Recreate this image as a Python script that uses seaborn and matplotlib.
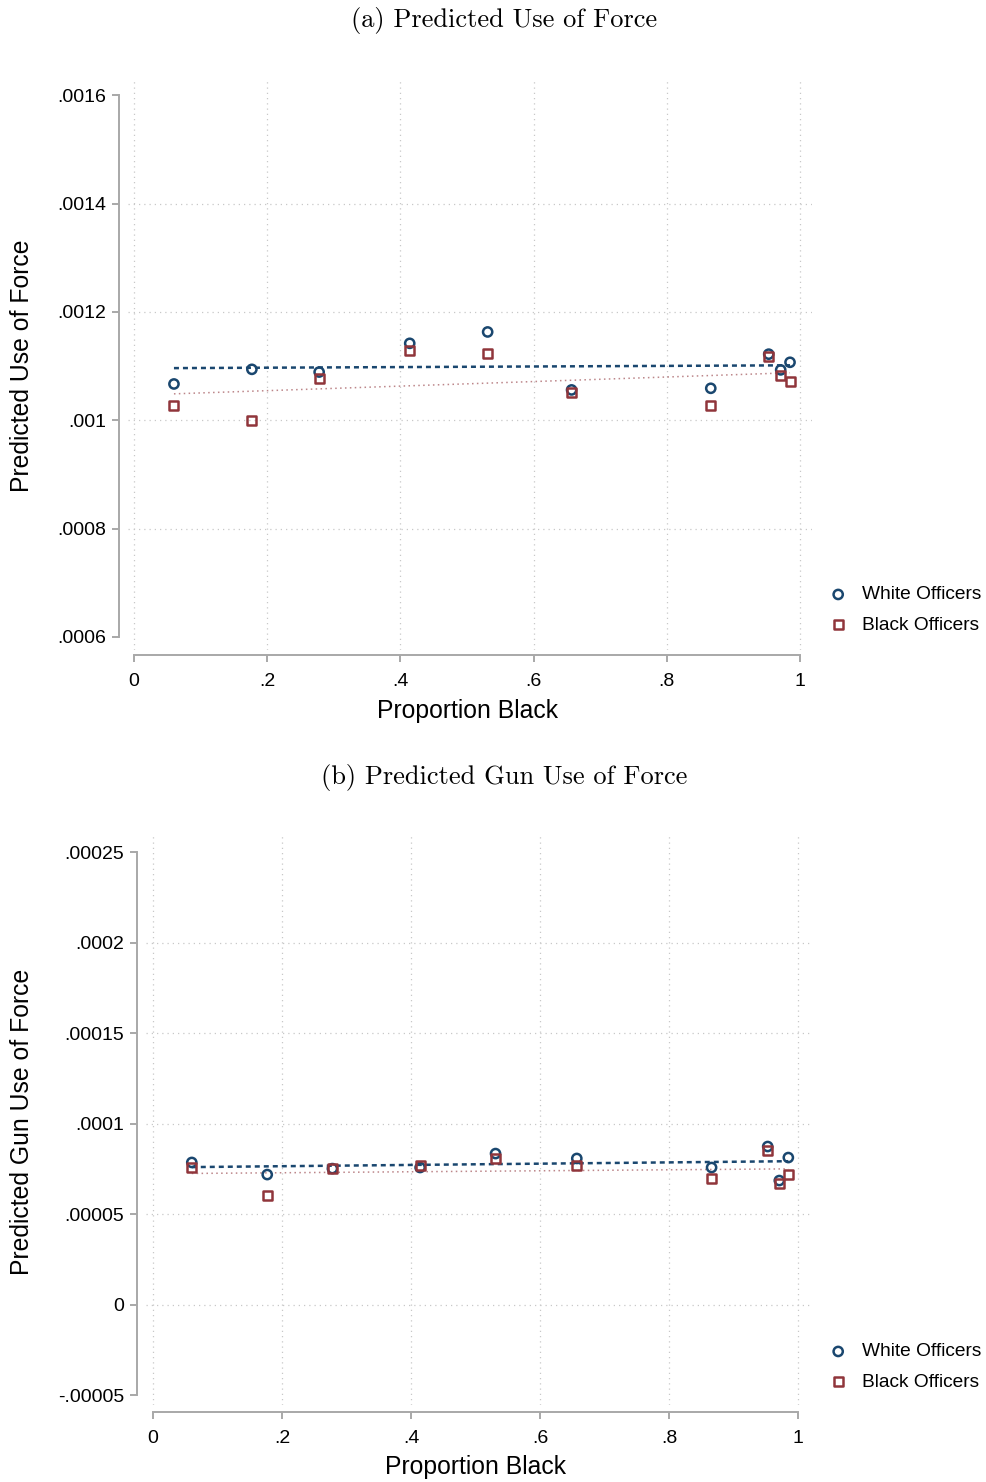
import numpy as np
import matplotlib
matplotlib.use("Agg")
import matplotlib.pyplot as plt
import matplotlib.transforms as mtransforms
import seaborn as sns

sns.set_style('white')
plt.rcParams['font.family'] = ['Liberation Sans', 'DejaVu Sans']
plt.rcParams['text.color'] = 'black'
plt.rcParams['axes.labelcolor'] = 'black'

# --- data ---
prop_black = [0.060, 0.177, 0.278, 0.414, 0.531, 0.657, 0.866, 0.953, 0.971, 0.985]

force_white = [0.001067, 0.001094, 0.001089, 0.001142, 0.001163,
               0.001056, 0.001059, 0.001122, 0.001093, 0.001107]
force_black = [0.001028, 0.000999, 0.001078, 0.001128, 0.001124,
               0.001052, 0.001028, 0.001118, 0.001083, 0.001072]

gun_white = [7.85e-5, 7.18e-5, 7.51e-5, 7.57e-5, 8.34e-5,
             8.07e-5, 7.57e-5, 8.73e-5, 6.85e-5, 8.12e-5]
gun_black = [7.57e-5, 6.02e-5, 7.51e-5, 7.68e-5, 8.07e-5,
             7.68e-5, 6.96e-5, 8.51e-5, 6.69e-5, 7.18e-5]

x_ticks = [0, 0.2, 0.4, 0.6, 0.8, 1.0]
x_ticklabels = ['0', '.2', '.4', '.6', '.8', '1']

force_yticks = [0.0006, 0.0008, 0.0010, 0.0012, 0.0014, 0.0016]
force_yticklabels = ['.0006', '.0008', '.001', '.0012', '.0014', '.0016']

gun_yticks = [-0.00005, 0, 0.00005, 0.0001, 0.00015, 0.0002, 0.00025]
gun_yticklabels = ['-.00005', '0', '.00005', '.0001', '.00015', '.0002', '.00025']

NAVY = '#1a476f'
MAROON = '#90353b'
AXCOL = '#a8a8a8'
GRIDCOL = '#c8c8c8'

W, H = 987, 1482
fig = plt.figure(figsize=(W / 100, H / 100), dpi=100)


def px_axes(left, top, right, bottom):
    return fig.add_axes([left / W, 1 - bottom / H, (right - left) / W, (bottom - top) / H])


def draw_panel(ax, white, black, yticks, yticklabels, xlim, ylim,
               left_out, bottom_out, ylabel, ylab_y, xlab_y, leg_y):
    ax.set_xlim(*xlim)
    ax.set_ylim(*ylim)

    # grid: vertical at every x tick, horizontal only at inner y ticks
    for xv in x_ticks:
        ax.axvline(xv, color=GRIDCOL, lw=0.9, ls=(0, (1, 3.2)), zorder=0)
    for yv in yticks[1:-1]:
        ax.axhline(yv, color=GRIDCOL, lw=0.9, ls=(0, (1, 3.2)), zorder=0)

    sns.regplot(x=np.array(prop_black), y=np.array(white), scatter=False, ci=None, ax=ax,
                line_kws=dict(color=NAVY, lw=1.8, ls=(0, (2, 1.6))))
    sns.regplot(x=np.array(prop_black), y=np.array(black), scatter=False, ci=None, ax=ax,
                line_kws=dict(color=MAROON, lw=1.1, ls=(0, (1, 2.2)), alpha=0.6))

    sns.scatterplot(x=prop_black, y=white, ax=ax, marker='o', s=44, color=NAVY,
                    facecolor='none', edgecolor=NAVY, linewidth=1.8,
                    label='White Officers', zorder=3)
    sns.scatterplot(x=prop_black, y=black, ax=ax, marker='s', s=42, color=MAROON,
                    facecolor='none', edgecolor=MAROON, linewidth=1.8,
                    label='Black Officers', zorder=3)

    ax.spines['top'].set_visible(False)
    ax.spines['right'].set_visible(False)
    for side, out in (('left', left_out), ('bottom', bottom_out)):
        sp = ax.spines[side]
        sp.set_visible(True)
        sp.set_color(AXCOL)
        sp.set_linewidth(1.4)
        sp.set_position(('outward', out * 0.72))
    ax.spines['left'].set_bounds(yticks[0], yticks[-1])
    ax.spines['bottom'].set_bounds(0, 1)

    ax.set_xticks(x_ticks)
    ax.set_xticklabels(x_ticklabels)
    ax.set_yticks(yticks)
    ax.set_yticklabels(yticklabels)
    ax.tick_params(axis='both', which='major', direction='out', length=5,
                   width=1.4, color=AXCOL, labelsize=14, labelcolor='black',
                   left=True, bottom=True)
    ax.tick_params(axis='y', pad=4)
    ax.tick_params(axis='x', pad=8)

    ax.set_ylabel(ylabel, fontsize=17.8)
    ax.yaxis.set_label_coords(22 / W, 1 - ylab_y / H, transform=fig.transFigure)
    ax.set_xlabel('Proportion Black', fontsize=17.8)
    tr = mtransforms.blended_transform_factory(ax.transData, fig.transFigure)
    ax.xaxis.set_label_coords(0.5, 1 - xlab_y / H, transform=tr)
    ax.xaxis.label.set_va('center')
    ax.yaxis.label.set_va('center')

    ax.legend(loc='center left', bbox_to_anchor=(828.6 / W, 1 - leg_y / H),
              bbox_transform=fig.transFigure, frameon=False, fontsize=13.8,
              handlelength=1.0, handletextpad=0.75, labelspacing=0.68,
              borderaxespad=0, borderpad=0, scatterpoints=1)


# panel (a)
ax_a = px_axes(128, 80, 812, 650)
draw_panel(ax_a, force_white, force_black, force_yticks, force_yticklabels,
           xlim=(-0.009, 1.018), ylim=(0.000576, 0.001628),
           left_out=9, bottom_out=5, ylabel='Predicted Use of Force',
           ylab_y=366, xlab_y=711, leg_y=610)

# panel (b)
ax_b = px_axes(146, 835, 812, 1405)
draw_panel(ax_b, gun_white, gun_black, gun_yticks, gun_yticklabels,
           xlim=(-0.011, 1.0217), ylim=(-0.0000555, 0.0002594),
           left_out=9, bottom_out=7, ylabel='Predicted Gun Use of Force',
           ylab_y=1122, xlab_y=1467, leg_y=1367)

fig.text(504 / W, 1 - 20 / H, '(a) Predicted Use of Force', ha='center', va='center',
         family=['cmr10', 'DejaVu Serif'], fontsize=19)
fig.text(504 / W, 1 - 778 / H, '(b) Predicted Gun Use of Force', ha='center', va='center',
         family=['cmr10', 'DejaVu Serif'], fontsize=19)

fig.savefig('out.png', dpi=100)
